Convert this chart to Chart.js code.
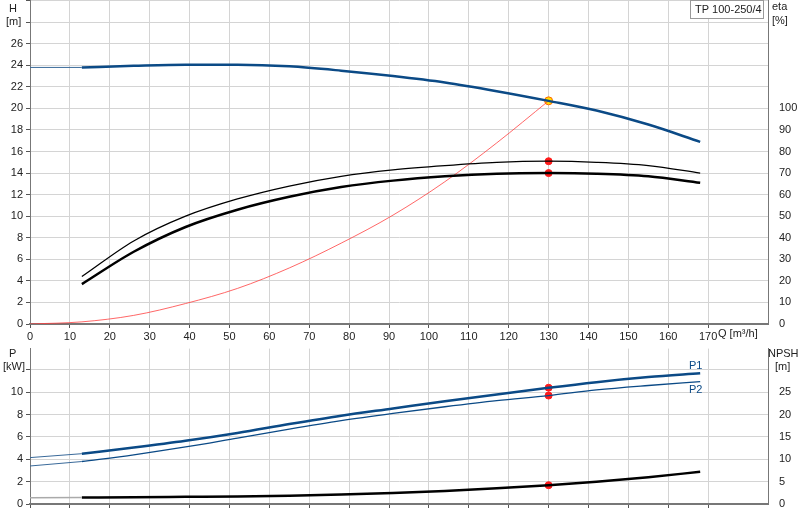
<!DOCTYPE html>
<html><head><meta charset="utf-8">
<script src="https://cdn.jsdelivr.net/npm/chart.js@4.4.1/dist/chart.umd.min.js"></script>
<style>body{margin:0;background:#fff;overflow:hidden}#a,#b{position:absolute;left:0}#a{top:-9px}#b{top:339px}</style>
</head><body>
<div id="a" style="width:800px;height:354px"><canvas id="c1"></canvas></div>
<div id="b" style="width:800px;height:181px"><canvas id="c2"></canvas></div>
<script>
const Q = [13,26,39,52,65,78,91,104,117,130,142,155,168];
const H = [23.8,23.95,24.05,24.05,23.9,23.5,23.0,22.4,21.6,20.7,19.8,18.5,16.9];
const etaUpper = [22,38.5,50,58,64,68.5,71.5,73.5,75,75.5,75,73.5,70];
const etaLower = [18.5,33.5,45,53,59,63.5,66.5,68.5,69.7,70,69.7,68.5,65.5];
const Qsys = [0,13,26,39,52,65,78,91,104,117,130];
const Hsys = [0,0.2,0.8,1.9,3.3,5.2,7.5,10.1,13.2,16.8,20.7];
const P1 = [4.5,5.05,5.65,6.35,7.15,7.9,8.55,9.2,9.8,10.4,10.9,11.35,11.7];
const P2 = [3.8,4.4,5.1,5.9,6.7,7.45,8.1,8.7,9.25,9.7,10.2,10.6,10.95];
const NPSH = [1.45,1.5,1.6,1.7,1.85,2.1,2.45,2.9,3.5,4.2,5.0,6.0,7.2];
const dutyQ = 130, dutyH = 20.7, dutyEta = [75.5,70], dutyP = [10.4,9.7], dutyNPSH = 4.2;
const H0 = 23.8, P1_0 = 4.15, P2_0 = 3.4, NPSH0 = 1.4;
const xTicks = [0,10,20,30,40,50,60,70,80,90,100,110,120,130,140,150,160,170];

const F = {family:"'Liberation Sans', Arial, sans-serif", size:11};
Chart.defaults.font = F; Chart.defaults.color = '#222';
const pts = (xs, ys) => xs.map((x,i)=>({x, y:ys[i]}));
const grid = {color:'#d4d4d4', lineWidth:1, drawTicks:true, tickLength:4, tickColor:'#555'};
const blue = '#0b4a86';
const lineDs = (data, color, w, yAxisID) => ({type:'line', data, borderColor:color, borderWidth:w, pointRadius:0, fill:false, cubicInterpolationMode:'monotone', yAxisID});
const dot = (data, bg, bc, yAxisID, r) => ({type:'scatter', data, backgroundColor:bg, borderColor:bc, borderWidth:1, pointRadius:r||3.5, yAxisID});
const fixW = w => function(s){ s.width = w; };
const fixH = h => function(s){ s.height = h; };

const textPlugin = (items) => ({id:'txt', afterDraw(c){
  const g = c.ctx; g.save(); g.font = "11px 'Liberation Sans', Arial, sans-serif";
  items(c, g); g.restore(); }});

new Chart(document.getElementById('c1'), {
  data:{datasets:[
    lineDs(pts([0,13],[H0,H[0]]), '#3a6a9a', 1, 'y'),
    lineDs(pts(Q,H), blue, 2.5, 'y'),
    lineDs(pts(Q,etaUpper), '#000', 1.3, 'eta'),
    lineDs(pts(Q,etaLower), '#000', 2.5, 'eta'),
    lineDs(pts(Qsys,Hsys), '#ff4040', 0.8, 'y'),
    dot([{x:dutyQ,y:dutyEta[0]},{x:dutyQ,y:dutyEta[1]}], '#ff1a1a', '#ff1a1a', 'eta'),
    dot([{x:dutyQ,y:dutyH}], '#ffdd00', '#ff6600', 'y', 4),
  ]},
  options:{responsive:true, maintainAspectRatio:false, animation:false,
    plugins:{legend:{display:false}, tooltip:{enabled:false}},
    scales:{
      x:{type:'linear', min:0, max:185, afterFit:fixH(21), afterBuildTicks(s){s.ticks=xTicks.map(v=>({value:v}));},
         grid:{...grid}, border:{color:'#777',width:2}, ticks:{padding:2, maxRotation:0, font:F}},
      y:{position:'left', min:0, max:30, afterFit:fixW(30), grid:{...grid}, border:{color:'#777'},
         ticks:{stepSize:2, padding:3, callback:v=>v<=26?v:''}},
      eta:{position:'right', min:0, max:150, afterFit:fixW(32), grid:{display:false}, border:{color:'#777'},
         afterBuildTicks(s){s.ticks=[0,10,20,30,40,50,60,70,80,90,100].map(v=>({value:v}));},
         ticks:{padding:3}}
    }},
  plugins:[textPlugin((c,g)=>{
    const o=9;
    g.fillStyle='#222';
    g.fillText('H',9,12+o); g.fillText('[m]',6,25+o);
    g.fillText('eta',772,10+o); g.fillText('[%]',772,24+o);
    g.fillText('Q [m³/h]',718,337+o);
    g.fillStyle='#fff'; g.fillRect(690,o+1,74,17); g.strokeStyle='#999'; g.strokeRect(690.5,o+0.5,73,18);
    g.fillStyle='#222'; g.fillText('TP 100-250/4',695,13+o);
  })]
});

new Chart(document.getElementById('c2'), {
  data:{datasets:[
    lineDs(pts([0,13],[P1_0,P1[0]]), '#3a6a9a', 1, 'y'),
    lineDs(pts(Q,P1), blue, 2.5, 'y'),
    lineDs(pts([0,13],[P2_0,P2[0]]), '#3a6a9a', 1, 'y'),
    lineDs(pts(Q,P2), blue, 1.3, 'y'),
    lineDs(pts([0,13],[NPSH0,NPSH[0]]), '#aaaaaa', 1.5, 'n'),
    lineDs(pts(Q,NPSH), '#000', 2.5, 'n'),
    dot([{x:dutyQ,y:dutyP[0]},{x:dutyQ,y:dutyP[1]}], '#ff1a1a', '#ff1a1a', 'y'),
    dot([{x:dutyQ,y:dutyNPSH}], '#ff1a1a', '#ff1a1a', 'n'),
  ]},
  options:{responsive:true, maintainAspectRatio:false, animation:false,
    layout:{padding:{top:5}},
    plugins:{legend:{display:false}, tooltip:{enabled:false}},
    scales:{
      x:{type:'linear', min:0, max:185, afterFit:fixH(16), afterBuildTicks(s){s.ticks=xTicks.map(v=>({value:v}));},
         grid:{...grid}, border:{color:'#777',width:2}, ticks:{display:false}},
      y:{position:'left', min:0, max:13.9, afterFit:fixW(30), grid:{...grid}, border:{color:'#777'},
         afterBuildTicks(s){s.ticks=[0,2,4,6,8,10,12].map(v=>({value:v}));},
         ticks:{padding:3, callback:v=>v<=10?v:''}},
      n:{position:'right', min:0, max:34.75, afterFit:fixW(32), grid:{display:false}, border:{color:'#777'},
         afterBuildTicks(s){s.ticks=[0,5,10,15,20,25,30].map(v=>({value:v}));},
         ticks:{padding:3, callback:v=>v<=25?v:''}}
    }},
  plugins:[textPlugin((c,g)=>{
    const o=6;
    g.fillStyle='#222';
    g.fillText('P',9,12+o); g.fillText('[kW]',3,25+o);
    g.fillText('NPSH',768,12+o); g.fillText('[m]',775,25+o);
    g.fillStyle=blue; g.fillText('P1',689,24+o); g.fillText('P2',689,48+o);
  })]
});
</script></body></html>
